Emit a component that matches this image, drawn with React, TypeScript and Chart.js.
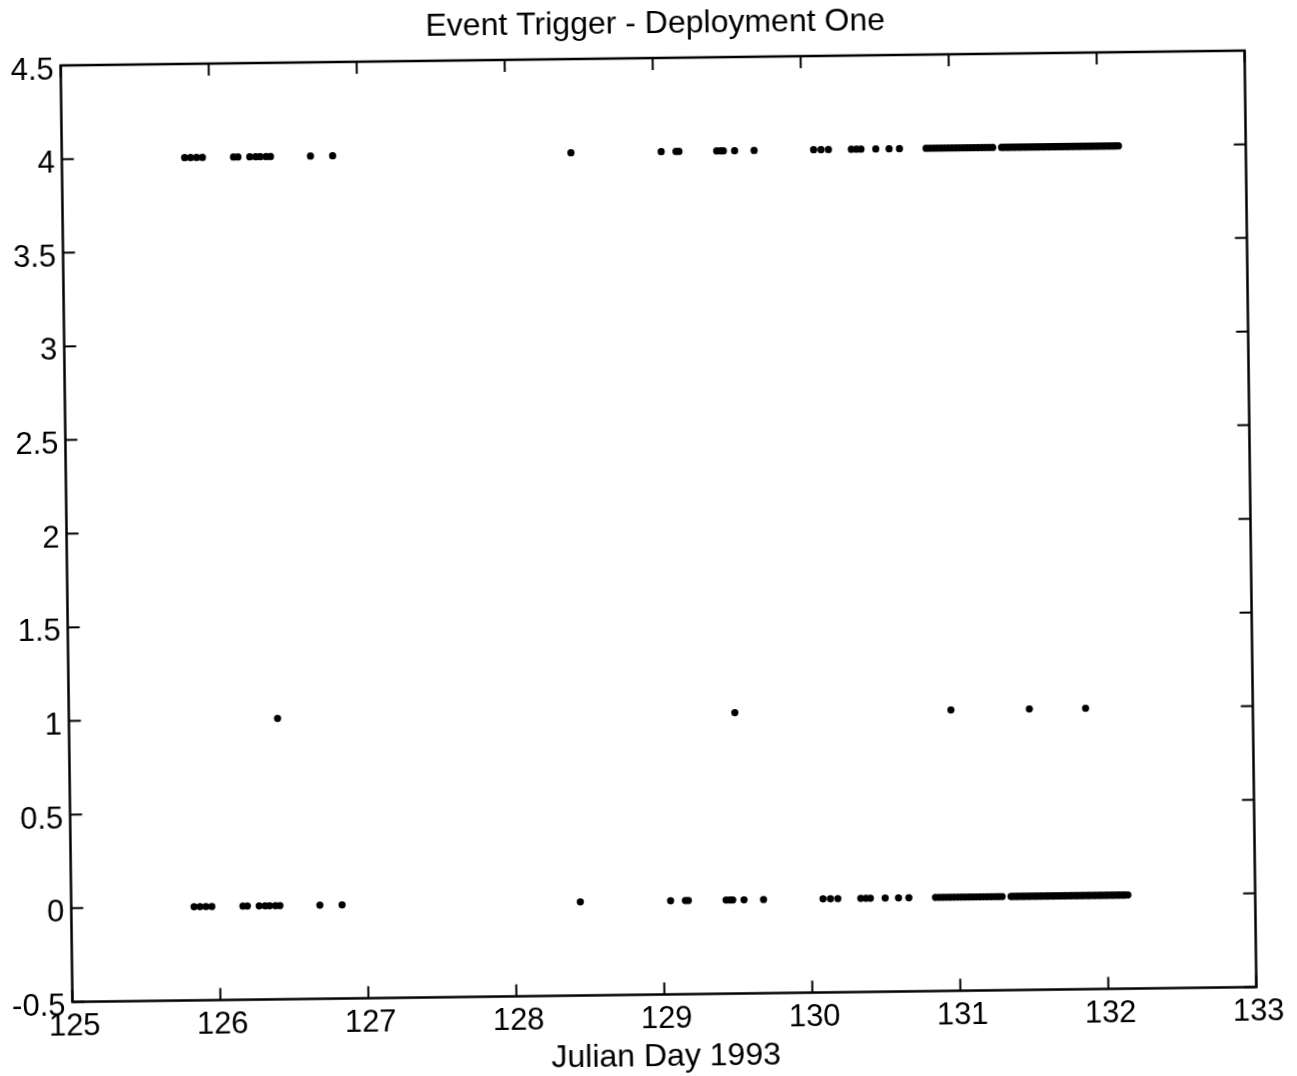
import React, { useEffect, useRef } from "react";
import { Chart, registerables } from "chart.js";

Chart.register(...registerables);

// ---- data ----
const titleText = "Event Trigger - Deployment One";
const xAxisLabel = "Julian Day 1993";

const xTickValues = [125, 126, 127, 128, 129, 130, 131, 132, 133];
const yTickValues = [-0.5, 0, 0.5, 1, 1.5, 2, 2.5, 3, 3.5, 4, 4.5];

// trigger times shown at both level 4 and level 0
const triggerDays = [
  125.83, 125.87, 125.91, 125.95,
  126.16, 126.19,
  126.27, 126.31, 126.34, 126.38, 126.41,
  126.68, 126.83,
  128.44,
  129.05, 129.15, 129.17,
  129.425, 129.45, 129.47, 129.546, 129.678,
  130.08, 130.13, 130.18,
  130.335, 130.37, 130.4, 130.5, 130.59, 130.66,
  130.84, 130.865, 130.89, 130.915, 130.94, 130.965, 130.99, 131.015, 131.04,
  131.065, 131.09, 131.115, 131.14, 131.165, 131.19, 131.215, 131.24, 131.265, 131.29,
  131.35, 131.36, 131.375, 131.39, 131.4, 131.415, 131.43, 131.44, 131.455, 131.47,
  131.48, 131.495, 131.51, 131.52, 131.535, 131.55, 131.56, 131.575, 131.59, 131.6,
  131.615, 131.63, 131.64, 131.655, 131.67, 131.68, 131.695, 131.71, 131.72, 131.735,
  131.75, 131.76, 131.775, 131.79, 131.8, 131.815, 131.83, 131.84, 131.855, 131.87,
  131.88, 131.895, 131.91, 131.92, 131.935, 131.95, 131.96, 131.975, 131.99, 132.0,
  132.015, 132.03, 132.04, 132.055, 132.07, 132.08, 132.095, 132.11, 132.12, 132.14,
];
const highLevel = 4;
const lowLevel = 0;

// trigger times shown at level 1
const levelOneDays = [126.41, 129.5, 130.96, 131.49, 131.87];
const midLevel = 1;

const FONT = '"Liberation Sans", Arial, Helvetica, sans-serif';

const framePlugin = {
  id: "matlabFrame",
  afterDraw(chart: any) {
    const { ctx, chartArea, scales } = chart;
    const { left, right, top, bottom } = chartArea;
    const xs = scales.x;
    const ys = scales.y;
    ctx.save();
    ctx.strokeStyle = "#000";
    ctx.lineWidth = 2.5;
    ctx.strokeRect(left, top, right - left, bottom - top);
    ctx.lineWidth = 2;
    const tl = 12;
    ctx.beginPath();
    xTickValues.forEach((v) => {
      const p = xs.getPixelForValue(v);
      ctx.moveTo(p, bottom);
      ctx.lineTo(p, bottom - tl);
      ctx.moveTo(p, top);
      ctx.lineTo(p, top + tl);
    });
    yTickValues.forEach((v) => {
      const p = ys.getPixelForValue(v);
      ctx.moveTo(left, p);
      ctx.lineTo(left + tl, p);
      ctx.moveTo(right, p);
      ctx.lineTo(right - tl, p);
    });
    ctx.stroke();

    ctx.fillStyle = "#000";
    ctx.font = `32px ${FONT}`;
    ctx.textAlign = "center";
    ctx.textBaseline = "alphabetic";
    const cx = (left + right) / 2;
    ctx.fillText(titleText, cx + 3, 33);
    ctx.fillText(xAxisLabel, cx + 1, 1066);
    ctx.restore();
  },
};

export default function App() {
  const canvasRef = useRef<HTMLCanvasElement | null>(null);

  useEffect(() => {
    const canvas = canvasRef.current;
    if (!canvas) return;
    Chart.defaults.font.family = FONT;
    const pointStyle = {
      backgroundColor: "#000",
      borderColor: "#000",
      borderWidth: 0,
      pointRadius: 3.6,
    };
    const chart = new Chart(canvas, {
      type: "scatter",
      data: {
        datasets: [
          {
            label: "level 4",
            data: triggerDays.map((d) => ({ x: d, y: highLevel })),
            ...pointStyle,
          },
          {
            label: "level 0",
            data: triggerDays.map((d) => ({ x: d, y: lowLevel })),
            ...pointStyle,
          },
          {
            label: "level 1",
            data: levelOneDays.map((d) => ({ x: d, y: midLevel })),
            ...pointStyle,
          },
        ],
      },
      options: {
        animation: false,
        responsive: false,
        devicePixelRatio: 1,
        layout: { padding: { top: 58, right: 46.5, left: 0, bottom: 0 } },
        plugins: {
          legend: { display: false },
          title: { display: false },
          tooltip: { enabled: false },
        },
        scales: {
          x: {
            type: "linear",
            min: 125,
            max: 133,
            border: { display: false },
            grid: { display: false, drawTicks: false },
            afterBuildTicks: (s: any) => {
              s.ticks = xTickValues.map((v) => ({ value: v }));
            },
            afterFit: (s: any) => {
              s.height = 81.5;
            },
            ticks: {
              color: "#000",
              font: { size: 31, family: FONT },
              padding: 6,
              labelOffset: 2,
              maxRotation: 0,
              autoSkip: false,
              callback: (v: any) => String(v),
            },
          },
          y: {
            type: "linear",
            min: -0.5,
            max: 4.5,
            border: { display: false },
            grid: { display: false, drawTicks: false },
            afterBuildTicks: (s: any) => {
              s.ticks = yTickValues.map((v) => ({ value: v }));
            },
            afterFit: (s: any) => {
              s.width = 66.5;
            },
            ticks: {
              color: "#000",
              font: { size: 31, family: FONT },
              padding: 7,
              labelOffset: 5,
              autoSkip: false,
              callback: (v: any) => String(v),
            },
          },
        },
      },
      plugins: [framePlugin],
    });
    return () => chart.destroy();
  }, []);

  return (
    <div
      style={{
        position: "fixed",
        left: 0,
        top: 0,
        width: 1297,
        height: 1076,
        overflow: "hidden",
        background: "#fff",
      }}
    >
      <div
        style={{
          width: 1297,
          height: 1076,
          transform: "rotate(-0.72deg)",
          transformOrigin: "658.5px 526px",
        }}
      >
        <canvas
          ref={canvasRef}
          width={1297}
          height={1076}
          style={{ display: "block", width: 1297, height: 1076 }}
        />
      </div>
    </div>
  );
}
